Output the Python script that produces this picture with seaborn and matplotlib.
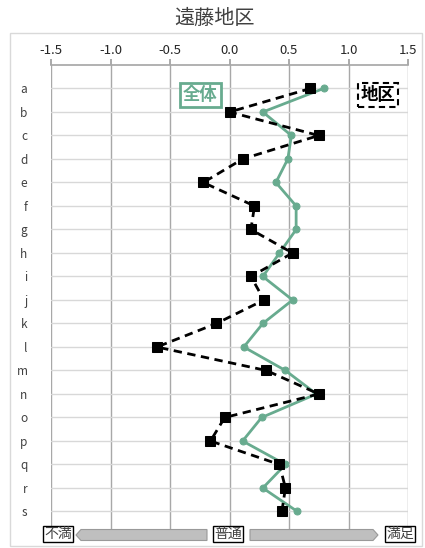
import matplotlib.pyplot as plt
import matplotlib.patches as mpatches
import seaborn as sns
import pandas as pd

# chart values
categories = list("abcdefghijklmnopqrs")
overall = [0.79, 0.28, 0.52, 0.49, 0.39, 0.56, 0.56, 0.42, 0.28, 0.53,
           0.28, 0.12, 0.47, 0.73, 0.27, 0.11, 0.47, 0.28, 0.57]
district = [0.68, 0.00, 0.75, 0.11, -0.22, 0.21, 0.18, 0.53, 0.18, 0.29,
            -0.11, -0.61, 0.31, 0.75, -0.04, -0.16, 0.42, 0.47, 0.44]
x_ticks = [-1.5, -1.0, -0.5, 0.0, 0.5, 1.0, 1.5]

sns.set_theme(style="white")
plt.rcParams["font.family"] = ["Noto Sans CJK JP", "DejaVu Sans"]

df = pd.DataFrame({"item": categories, "pos": range(len(categories)),
                   "全体": overall, "地区": district})

fig = plt.figure(figsize=(4.25, 5.48), dpi=100)
ax = fig.add_axes([51 / 425, 1 - 535 / 548, 357 / 425, 470 / 548])

green = "#68ab8f"
# vertical connections: sort=False keeps the row order
sns.lineplot(data=df, x="全体", y="pos", sort=False, orient="y", ax=ax,
             color=green, lw=2, marker="o", markersize=5,
             markeredgecolor=green, zorder=3)
sns.lineplot(data=df, x="地区", y="pos", sort=False, orient="y", ax=ax,
             color="black", lw=2, linestyle=(0, (3, 2)), marker="s",
             markersize=7, markeredgecolor="black", zorder=4)

ax.set_xlim(-1.5, 1.5)
ax.set_ylim(len(categories), -1)
ax.set_xticks(x_ticks)
ax.set_xticklabels([f"{t:.1f}" for t in x_ticks], fontsize=9.5)
ax.xaxis.tick_top()
ax.tick_params(axis="x", top=True, length=4, color="#a0a0a0", pad=2)
ax.set_yticks(range(len(categories)))
ax.set_yticklabels(categories, fontsize=8.5, color="#404040")
ax.tick_params(axis="y", left=False, pad=11)
ax.set_xlabel("")
ax.set_ylabel("")
ax.grid(axis="x", color="#a8a8a8", lw=1)
ax.grid(axis="y", color="#d8d8d8", lw=1)
ax.set_axisbelow(True)
for side in ["left", "right", "bottom"]:
    ax.spines[side].set_visible(False)
ax.spines["top"].set_color("#a8a8a8")

fig.text(215 / 425, 1 - 18 / 548, "遠藤地区", ha="center", va="center",
         fontsize=14.5, color="#404040")

# outer chart frame
fig.patches.append(mpatches.Rectangle((10 / 425, 1 - 546 / 548), 412 / 425, 513 / 548,
                                      transform=fig.transFigure, fill=False,
                                      ec="#d9d9d9", lw=1))

# series labels
fig.text(200 / 425, 1 - 95 / 548, "全体", ha="center", va="center", fontsize=12.5,
         color=green, fontweight="bold",
         bbox=dict(boxstyle="square,pad=0.18", fc="white", ec=green, lw=2))
fig.text(378 / 425, 1 - 95 / 548, "地区", ha="center", va="center", fontsize=12.5,
         color="black", fontweight="bold",
         bbox=dict(boxstyle="square,pad=0.15", fc="white", ec="black", lw=1.5,
                   ls=(0, (3, 2))))

# bottom scale: 不満 <- 普通 -> 満足
def px(x, y):
    return (x / 425, 1 - y / 548)

arrow_kw = dict(transform=fig.transFigure, fc="#bfbfbf", ec="#999999", lw=0.8,
                length_includes_head=True, width=11 / 548, head_width=11 / 548,
                head_length=5 / 425)
fig.patches.append(mpatches.FancyArrow(*px(207, 535), -131 / 425, 0, **arrow_kw))
fig.patches.append(mpatches.FancyArrow(*px(250, 535), 128 / 425, 0, **arrow_kw))
for x, label in [(58, "不満"), (228, "普通"), (400, "満足")]:
    fig.text(x / 425, 1 - 534 / 548, label, ha="center", va="center", fontsize=10,
             color="#404040",
             bbox=dict(boxstyle="square,pad=0.1", fc="white", ec="black", lw=1))

fig.savefig("out.png", dpi=100)
